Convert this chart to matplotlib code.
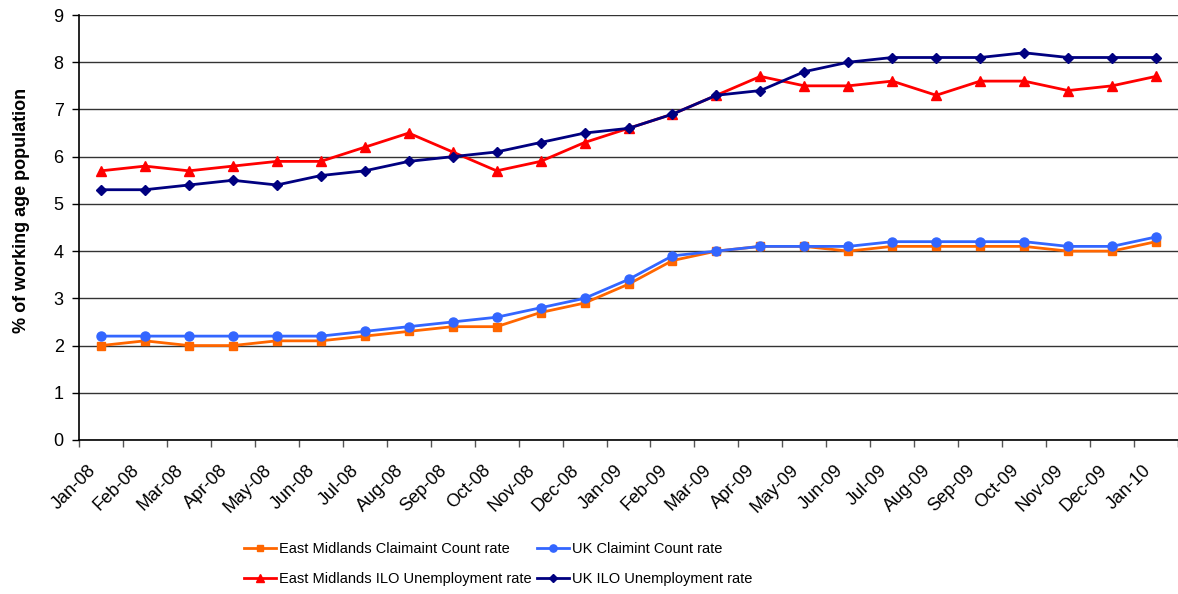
import matplotlib
matplotlib.use("Agg")
import matplotlib.pyplot as plt
import matplotlib.transforms as mtransforms
from matplotlib import font_manager
import numpy as np

plt.rcParams['font.family'] = ['Liberation Sans', 'DejaVu Sans']

months = ["Jan-08", "Feb-08", "Mar-08", "Apr-08", "May-08", "Jun-08", "Jul-08", "Aug-08",
          "Sep-08", "Oct-08", "Nov-08", "Dec-08", "Jan-09", "Feb-09", "Mar-09", "Apr-09",
          "May-09", "Jun-09", "Jul-09", "Aug-09", "Sep-09", "Oct-09", "Nov-09", "Dec-09", "Jan-10"]

em_claimant = [2.0, 2.1, 2.0, 2.0, 2.1, 2.1, 2.2, 2.3, 2.4, 2.4, 2.7, 2.9, 3.3, 3.8, 4.0, 4.1,
               4.1, 4.0, 4.1, 4.1, 4.1, 4.1, 4.0, 4.0, 4.2]
uk_claimant = [2.2, 2.2, 2.2, 2.2, 2.2, 2.2, 2.3, 2.4, 2.5, 2.6, 2.8, 3.0, 3.4, 3.9, 4.0, 4.1,
               4.1, 4.1, 4.2, 4.2, 4.2, 4.2, 4.1, 4.1, 4.3]
em_ilo = [5.7, 5.8, 5.7, 5.8, 5.9, 5.9, 6.2, 6.5, 6.1, 5.7, 5.9, 6.3, 6.6, 6.9, 7.3, 7.7,
          7.5, 7.5, 7.6, 7.3, 7.6, 7.6, 7.4, 7.5, 7.7]
uk_ilo = [5.3, 5.3, 5.4, 5.5, 5.4, 5.6, 5.7, 5.9, 6.0, 6.1, 6.3, 6.5, 6.6, 6.9, 7.3, 7.4,
          7.8, 8.0, 8.1, 8.1, 8.1, 8.2, 8.1, 8.1, 8.1]

fig = plt.figure(figsize=(11.78, 5.94), dpi=100)
ax = fig.add_axes([79/1178, 154/594, 1 - 79/1178, 425/594])

x = np.arange(len(months))
lw = 2.0
l1, = ax.plot(x, em_claimant, color='#FF6600', lw=lw, marker='s', ms=6, label='East Midlands Claimaint Count rate', zorder=3)
l2, = ax.plot(x, uk_claimant, color='#3366FF', lw=lw, marker='o', ms=6.5, label='UK Claimint Count rate', zorder=4)
l3, = ax.plot(x, em_ilo, color='#FF0000', lw=lw, marker='^', ms=7, label='East Midlands ILO Unemployment rate', zorder=5)
l4, = ax.plot(x, uk_ilo, color='#000080', lw=lw, marker='D', ms=5.5, label='UK ILO Unemployment rate', zorder=6)

ax.set_xlim(-0.5, len(months) - 0.5)
ax.set_ylim(0, 9)
ax.set_yticks(range(0, 10))
ax.yaxis.grid(True, color='#333333', lw=1)
ax.set_axisbelow(True)

ax.set_xticks(x)
ax.set_xticklabels(months, rotation=45, ha='right', va='center', rotation_mode='anchor', fontsize=13)
ax.tick_params(axis='x', which='major', length=0, pad=20)
offset = mtransforms.ScaledTranslation(-8/100, 0, fig.dpi_scale_trans)
for lab in ax.get_xticklabels():
    lab.set_transform(lab.get_transform() + offset)
ax.set_xticks(np.arange(-0.5, len(months), 1.0), minor=True)
ax.tick_params(axis='x', which='minor', length=5, color='#555555', width=1)
ax.tick_params(axis='y', length=5, width=1, labelsize=13, pad=6)

for s in ['top', 'right']:
    ax.spines[s].set_visible(False)
ax.spines['left'].set_color('black')
ax.spines['bottom'].set_color('black')
ax.spines['left'].set_linewidth(1.2)
ax.spines['bottom'].set_linewidth(1.2)

ax.set_ylabel('% of working age population', fontsize=13, fontweight='bold')
ax.yaxis.set_label_coords((30 - 79) / 1099, (440 - 210) / 425)

names = {f.name for f in font_manager.fontManager.ttflist}
if 'Liberation Sans Narrow' in names:
    leg_prop = font_manager.FontProperties(family='Liberation Sans Narrow', size=12.5)
else:
    leg_prop = font_manager.FontProperties(family='Liberation Sans', size=10.5)

fig.legend([l1, l3, l2, l4], [l1.get_label(), l3.get_label(), l2.get_label(), l4.get_label()],
           ncol=2, loc='center', bbox_to_anchor=(498/1178, 1 - 564/594), frameon=False,
           prop=leg_prop, handlelength=2.2 * 10.5 / leg_prop.get_size(),
           handletextpad=0.2, columnspacing=0.4,
           labelspacing=1.1 * 10.5 / leg_prop.get_size(), borderaxespad=0, borderpad=0,
           markerscale=0.8)

fig.savefig('out.png', dpi=100)
